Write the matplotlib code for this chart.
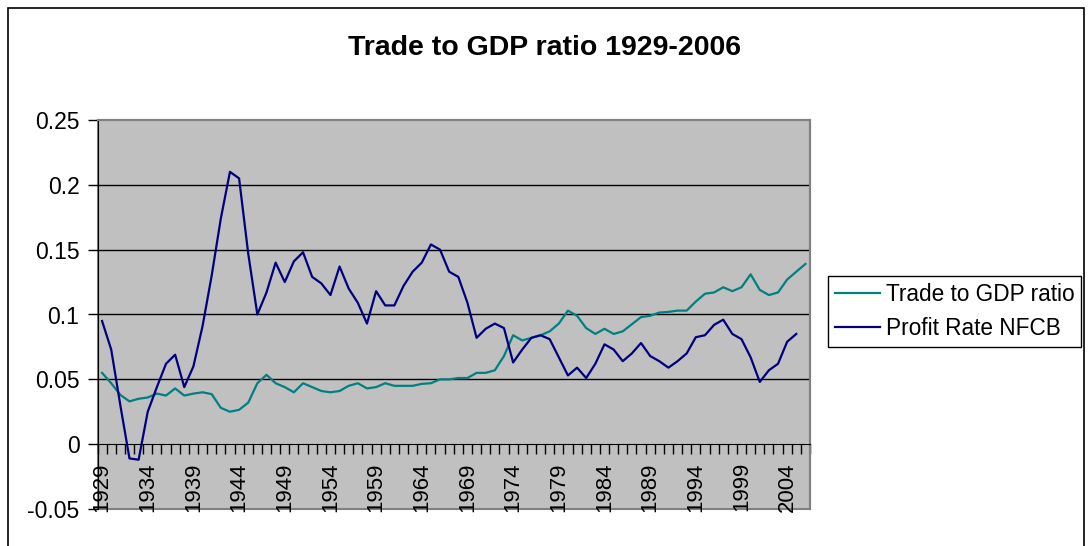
#!/usr/bin/env python3

import matplotlib

matplotlib.use("Agg")
import matplotlib.pyplot as plt
import matplotlib.ticker as ticker
from matplotlib.patches import Rectangle

plt.rcParams["font.family"] = ["Liberation Sans", "DejaVu Sans"]

TITLE = "Trade to GDP ratio 1929-2006"

trade_years = list(range(1929, 2007))
trade_gdp = [
    0.055, 0.047, 0.038, 0.033, 0.035, 0.036, 0.039, 0.0375, 0.043, 0.0375,  # 1929-1938
    0.039, 0.040, 0.0386, 0.028, 0.025, 0.0265, 0.032, 0.047, 0.0535, 0.047,  # 1939-1948
    0.044, 0.040, 0.047, 0.044, 0.041, 0.040, 0.041, 0.045, 0.047, 0.043,  # 1949-1958
    0.044, 0.047, 0.045, 0.045, 0.045, 0.0465, 0.047, 0.050, 0.050, 0.051,  # 1959-1968
    0.051, 0.055, 0.055, 0.057, 0.068, 0.084, 0.080, 0.082, 0.084, 0.087,  # 1969-1978
    0.093, 0.103, 0.099, 0.0895, 0.085, 0.089, 0.085, 0.087, 0.0925, 0.098,  # 1979-1988
    0.099, 0.1015, 0.102, 0.103, 0.103, 0.110, 0.116, 0.117, 0.121, 0.118,  # 1989-1998
    0.121, 0.131, 0.119, 0.115, 0.117, 0.127, 0.133, 0.139,  # 1999-2006
]

profit_years = list(range(1929, 2006))
profit_rate = [
    0.095, 0.073, 0.030, -0.011, -0.012, 0.025, 0.044, 0.062, 0.069, 0.044,  # 1929-1938
    0.060, 0.091, 0.130, 0.174, 0.210, 0.205, 0.147, 0.100, 0.117, 0.140,  # 1939-1948
    0.125, 0.141, 0.148, 0.129, 0.124, 0.115, 0.137, 0.120, 0.109, 0.093,  # 1949-1958
    0.118, 0.107, 0.107, 0.122, 0.133, 0.140, 0.154, 0.150, 0.133, 0.129,  # 1959-1968
    0.109, 0.082, 0.089, 0.093, 0.0895, 0.063, 0.073, 0.082, 0.084, 0.081,  # 1969-1978
    0.067, 0.053, 0.059, 0.051, 0.062, 0.077, 0.073, 0.064, 0.070, 0.078,  # 1979-1988
    0.068, 0.064, 0.059, 0.064, 0.070, 0.0825, 0.084, 0.092, 0.096, 0.085,  # 1989-1998
    0.081, 0.067, 0.048, 0.057, 0.062, 0.079, 0.085,  # 1999-2005
]

year_labels = list(range(1929, 2005, 5))
y_ticks = [-0.05, 0, 0.05, 0.1, 0.15, 0.2, 0.25]


def create_plot(output_file="out.png"):
    W, H = 1089, 546
    fig = plt.figure(figsize=(W / 100, H / 100), dpi=100)
    ax = fig.add_axes([97.5 / W, 1 - 509 / H, (810 - 97.5) / W, (509 - 120) / H])

    # plot area
    ax.set_facecolor("#C0C0C0")
    ax.patch.set_edgecolor("#808080")
    ax.patch.set_linewidth(1.5)
    ax.set_ylim(-0.05, 0.25)
    ax.set_xlim(trade_years[0] - 0.5, trade_years[-1] + 0.5)
    for yv in y_ticks[2:-1]:
        ax.axhline(yv, color="black", linewidth=1.0, zorder=1)

    ax.plot(trade_years, trade_gdp, color="#008080", linewidth=1.6,
            label="Trade to GDP ratio", zorder=3)
    ax.plot(profit_years, profit_rate, color="#000080", linewidth=1.6,
            label="Profit Rate NFCB", zorder=3)

    # axes
    for side in ["top", "right"]:
        ax.spines[side].set_color("#808080")
        ax.spines[side].set_linewidth(1.5)
    ax.spines["left"].set_color("black")
    ax.spines["bottom"].set_position(("data", 0))
    ax.spines["bottom"].set_color("black")

    ax.set_yticks(y_ticks)
    ax.yaxis.set_major_formatter(ticker.FuncFormatter(lambda v, p: f"{v:g}"))
    ax.tick_params(axis="y", direction="out", length=7, width=1, pad=6,
                   labelsize=16.5)

    ax.set_xticks(year_labels)
    ax.set_xticklabels([str(y) for y in year_labels], rotation=90)
    ax.set_xticks([y - 0.5 for y in trade_years] + [trade_years[-1] + 0.5], minor=True)
    ax.tick_params(axis="x", which="major", length=0, pad=13, labelsize=16)
    ax.tick_params(axis="x", which="minor", direction="out", length=7, width=1)

    fig.text(545 / W, 1 - 48 / H, TITLE, ha="center", va="center",
             fontsize=20.5, fontweight="bold")

    leg = ax.legend(loc="upper left", bbox_to_anchor=(828 / W, 1 - 276 / H),
                    bbox_transform=fig.transFigure, borderaxespad=0,
                    fancybox=False, framealpha=1, edgecolor="black",
                    fontsize=16.3, handlelength=2.0, handletextpad=0.25,
                    borderpad=0.3, labelspacing=0.5)
    leg.get_frame().set_linewidth(1.0)

    # chart area border
    fig.patches.append(Rectangle((7.5 / W, -0.02), (1084 - 7.5) / W, 1.02 - 8 / H,
                                 transform=fig.transFigure, fill=False,
                                 edgecolor="black", linewidth=1.2))

    plt.savefig(output_file, dpi=100)
    plt.close()


if __name__ == "__main__":
    create_plot()
